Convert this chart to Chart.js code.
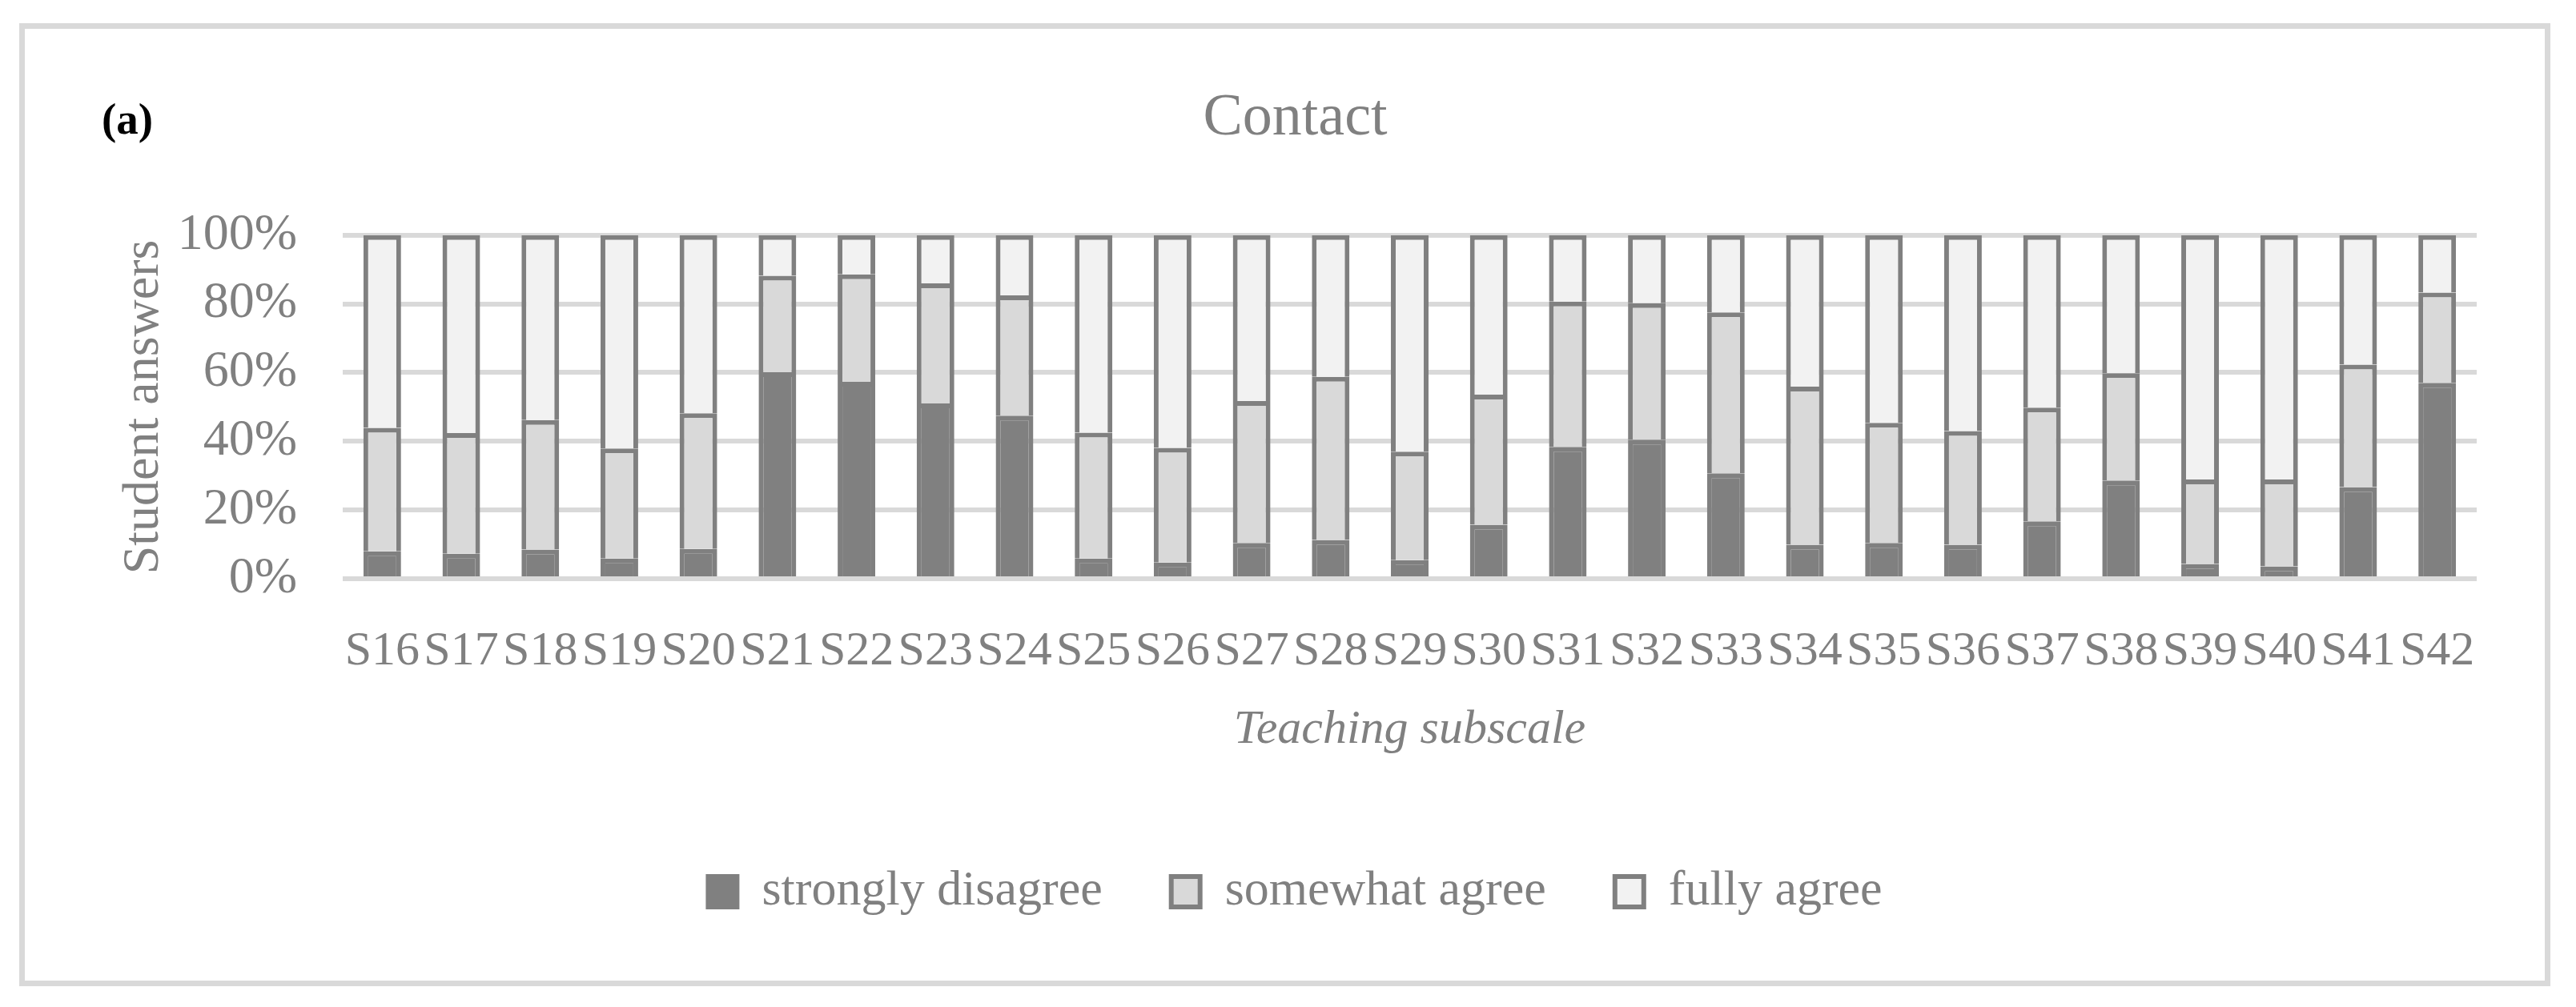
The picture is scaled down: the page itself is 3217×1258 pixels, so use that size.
<!DOCTYPE html>
<html>
<head>
<meta charset="utf-8">
<script src="https://cdn.jsdelivr.net/npm/chart.js@4.4.0/dist/chart.umd.min.js"></script>
<style>
  html, body { margin: 0; padding: 0; background: #fff; }
  #wrap { position: relative; width: 3217px; height: 1258px; }
  #frame { position: absolute; left: 24px; top: 29px; width: 3161px; height: 1203px; box-sizing: border-box; border: 7px solid #d9d9d9; }
  #tag { position: absolute; left: 127px; top: 121px; font: bold 55px 'Liberation Serif', serif; line-height: 55px; color: #000; }
  #c { position: absolute; left: 0; top: 0; }
</style>
</head>
<body>
<div id="wrap">
  <div id="frame"></div>
  <div id="tag">(a)</div>
  <canvas id="c" width="3217" height="1258"></canvas>
</div>
<script>
var items = ["S16","S17","S18","S19","S20","S21","S22","S23","S24","S25","S26","S27","S28","S29","S30","S31","S32","S33","S34","S35","S36","S37","S38","S39","S40","S41","S42"];
var stronglyDisagree = [8.0,7.3,8.5,5.9,8.7,60.1,57.3,51.0,47.5,5.9,4.7,10.4,11.3,5.4,15.7,38.4,40.5,30.7,9.9,10.4,9.9,16.7,28.6,4.3,3.6,26.7,57.0];
var somewhatAgree = [35.9,35.1,37.7,32.0,39.5,28.1,31.3,35.0,35.0,36.6,33.4,41.3,47.5,31.6,37.9,42.3,39.7,46.8,46.0,35.0,33.1,33.1,31.2,24.6,25.3,35.6,26.3];
var fullyAgree = [56.1,57.6,53.8,62.1,51.8,11.8,11.4,14.0,17.5,57.5,61.9,48.3,41.2,63.0,46.4,19.3,19.8,22.5,44.1,54.6,57.0,50.2,40.2,71.1,71.1,37.7,16.7];
var yTicks = [0, 20, 40, 60, 80, 100];

var grey = "#808080";
Chart.defaults.font.family = "'Liberation Serif', serif";
Chart.defaults.color = grey;

function serie(label, data, fill) {
  return {
    label: label,
    data: data,
    backgroundColor: fill,
    borderColor: grey,
    borderWidth: 6,
    borderSkipped: "start",
    categoryPercentage: 1,
    barPercentage: 0.476
  };
}

const chart = new Chart(document.getElementById("c"), {
  type: "bar",
  data: {
    labels: items,
    datasets: [
      serie("strongly disagree", stronglyDisagree, grey),
      serie("somewhat agree", somewhatAgree, "#d9d9d9"),
      serie("fully agree", fullyAgree, "#f2f2f2")
    ]
  },
  options: {
    responsive: false,
    animation: false,
    layout: { padding: { left: 142, right: 124, top: 0, bottom: 103 } },
    plugins: {
      title: {
        display: true,
        text: "Contact",
        color: grey,
        font: { size: 74, weight: "normal" },
        padding: { top: 104, bottom: 101 }
      },
      legend: {
        position: "bottom",
        labels: {
          color: grey,
          font: { size: 62 },
          boxWidth: 36,
          boxHeight: 38,
          padding: 86
        }
      },
      tooltip: { enabled: false }
    },
    scales: {
      x: {
        stacked: true,
        grid: { display: false },
        border: { display: false },
        ticks: { font: { size: 60 }, color: grey, padding: 47, autoSkip: false, maxRotation: 0, minRotation: 0 },
        title: { display: true, text: "Teaching subscale", color: grey, font: { size: 60, style: "italic" }, padding: { top: 0, bottom: 49 } },
        afterFit: function (s) { s.height = 274; }
      },
      y: {
        stacked: true,
        min: 0,
        max: 100,
        afterBuildTicks: function (s) { s.ticks = yTicks.map(function (v) { return { value: v }; }); },
        grid: { color: "#d9d9d9", lineWidth: 6, drawTicks: false },
        border: { display: false },
        ticks: { font: { size: 64 }, color: grey, padding: 57, callback: function (v) { return v + "%"; } },
        title: { display: true, text: "Student answers", color: grey, font: { size: 64 }, padding: 0 },
        afterFit: function (s) { s.width = 286; }
      }
    }
  }
});
</script>
</body>
</html>
